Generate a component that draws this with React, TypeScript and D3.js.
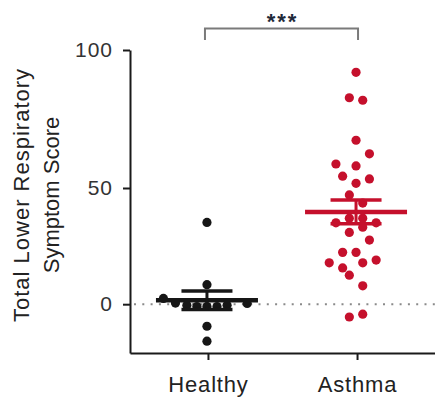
import React, { useEffect, useRef } from 'react';
import * as d3 from 'd3';

// categories
const groups = ['Healthy', 'Asthma'];

// individual scores
const healthyScores = [35.2, 8.4, -9.5, -15.9, 2.5, 0.5, -0.5, -1, -1, -1, -0.5, 0.3];
const healthySlots = [0, 0, 0, 0, -6.5, -4.7, -3, -1.5, 0, 1.5, 3, 6];

const asthmaScores = [
  91.9, 82.7, 81.8, 67.3, 62.4, 58.7, 58.0, 54.3, 51.7, 53.3, 47.0, 43.5,
  35, 37, 37, 35,
  33.1, 30.9, 27.6, 22.3, 22.3, 17.8, 17.8, 15.6, 19.0, 12.5, 7.9, -5.5, -4.3,
];
const asthmaSlots = [
  0, -1, 1, 0, 2, -3, 0, -2, 0, 2, -1, 1,
  -3, -1, 1, 3,
  1, -1, 2, -2, 0, -4, 1, -2, 3, -1, 1, -1, 1,
];

// mean +/- SEM per group
const groupMeans = [1.7, 39.7];
const groupSems = [4, 5.1];

const yTicks = [0, 50, 100];
const significance = '***';

const colors = ['#161616', '#c5102c'];

export default function App() {
  const ref = useRef<SVGSVGElement | null>(null);

  useEffect(() => {
    const width = 435;
    const height = 398;
    const svg = d3.select(ref.current);
    svg.selectAll('*').remove();
    svg.attr('width', width).attr('height', height);

    const font = '"Liberation Sans", Arial, sans-serif';

    // the original axis is not evenly spaced between 0-50 and 50-100
    const y = d3.scaleLinear().domain([-21, 50, 100]).range([353, 188, 50]);
    const x = d3.scalePoint<string>().domain(groups).range([130, 435]).padding(0.523);
    const jitter = d3.scaleLinear().domain([-1, 1]).range([-6.7, 6.7]);

    // zero reference line
    svg.append('line')
      .attr('x1', 134)
      .attr('x2', width)
      .attr('y1', y(0))
      .attr('y2', y(0))
      .attr('stroke', '#8a8a8a')
      .attr('stroke-width', 2)
      .attr('stroke-dasharray', '2,6.3');

    // Y axis
    const yAxis = svg.append('g')
      .attr('transform', 'translate(130,0)')
      .call(d3.axisLeft(y).tickValues(yTicks).tickSize(7).tickSizeOuter(0).tickPadding(10));
    yAxis.select('.domain').attr('stroke', '#1a1a1a').attr('stroke-width', 2);
    yAxis.selectAll('.tick line').attr('stroke', '#1a1a1a').attr('stroke-width', 2);
    yAxis.selectAll('.tick text')
      .attr('fill', '#333')
      .style('font-family', font)
      .style('font-size', '21px')
      .style('letter-spacing', '1px');

    // X axis
    const xAxis = svg.append('g')
      .attr('transform', 'translate(0,353)')
      .call(d3.axisBottom(x).tickSize(7).tickSizeOuter(0).tickPadding(16));
    xAxis.select('.domain').attr('stroke', '#1a1a1a').attr('stroke-width', 2);
    xAxis.selectAll('.tick line').attr('stroke', '#1a1a1a').attr('stroke-width', 2);
    xAxis.selectAll('.tick text')
      .attr('fill', '#222')
      .style('font-family', font)
      .style('font-size', '22px')
      .style('letter-spacing', '0.8px');

    // Y axis title
    const titleLines = ['Total Lower Respiratory', 'Symptom Score'];
    svg.selectAll('text.ytitle')
      .data(titleLines)
      .enter()
      .append('text')
      .attr('class', 'ytitle')
      .attr('transform', (d, i) => `translate(${28.5 + i * 30},195) rotate(-90)`)
      .attr('text-anchor', 'middle')
      .attr('fill', '#222')
      .style('font-family', font)
      .style('font-size', '22px')
      .style('letter-spacing', (d, i) => (i === 0 ? '1px' : '0px'))
      .text(d => d);

    // points
    const points = [
      ...healthyScores.map((v, i) => ({ g: 0, v, s: healthySlots[i] })),
      ...asthmaScores.map((v, i) => ({ g: 1, v, s: asthmaSlots[i] })),
    ];
    svg.append('g')
      .selectAll('circle')
      .data(points)
      .enter()
      .append('circle')
      .attr('cx', d => (x(groups[d.g]) as number) + jitter(d.s) - 1)
      .attr('cy', d => y(d.v))
      .attr('r', 4.6)
      .attr('fill', d => colors[d.g]);

    // mean and SEM
    const stats = groups.map((g, i) => ({ g, i, m: groupMeans[i], se: groupSems[i] }));
    const bars = svg.append('g');
    stats.forEach(d => {
      const cx = (x(d.g) as number) - 1;
      const c = colors[d.i];
      bars.append('line')
        .attr('x1', cx - 51).attr('x2', cx + 51)
        .attr('y1', y(d.m)).attr('y2', y(d.m))
        .attr('stroke', c).attr('stroke-width', 4.5);
      [d.m + d.se, d.m - d.se].forEach(v => {
        bars.append('line')
          .attr('x1', cx - 25.5).attr('x2', cx + 25.5)
          .attr('y1', y(v)).attr('y2', y(v))
          .attr('stroke', c).attr('stroke-width', 3.5);
      });
      bars.append('line')
        .attr('x1', cx).attr('x2', cx)
        .attr('y1', y(d.m + d.se)).attr('y2', y(d.m - d.se))
        .attr('stroke', c).attr('stroke-width', 3);
    });

    // significance bracket
    const x0 = x(groups[0]) as number;
    const x1 = x(groups[1]) as number;
    svg.append('path')
      .attr('d', `M${x0 - 3},40 V28.5 H${x1 + 1} V40`)
      .attr('fill', 'none')
      .attr('stroke', '#7a7a7a')
      .attr('stroke-width', 2);
    svg.append('text')
      .attr('x', (x0 + x1) / 2)
      .attr('y', 29)
      .attr('text-anchor', 'middle')
      .attr('fill', '#1f2a3a')
      .style('font-family', font)
      .style('font-size', '22px')
      .style('font-weight', 'bold')
      .style('letter-spacing', '2px')
      .text(significance);
  }, []);

  return <svg ref={ref} style={{ position: 'absolute', left: 0, top: 0, background: '#fff' }} />;
}
